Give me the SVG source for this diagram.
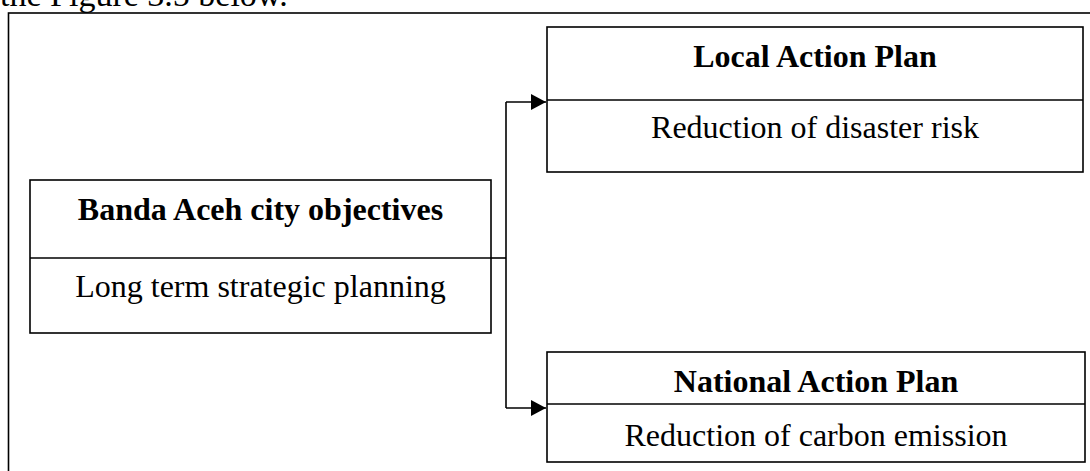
<svg xmlns="http://www.w3.org/2000/svg" width="1090" height="471" viewBox="0 0 1090 471">
  <style>
    .box { fill: #ffffff; stroke: #000000; stroke-width: 1.6; }
    .line { fill: none; stroke: #000000; stroke-width: 1.6; }
    .title { font-family: "Liberation Serif", "Times New Roman", serif; font-size: 32px; font-weight: bold; fill: #000000; text-anchor: middle; }
    .body { font-family: "Liberation Serif", "Times New Roman", serif; font-size: 32px; fill: #000000; text-anchor: middle; }
    .caption { font-family: "Liberation Serif", "Times New Roman", serif; font-size: 34px; fill: #000000; }
  </style>
  <defs>
    <marker id="arrow" markerUnits="userSpaceOnUse" markerWidth="16" markerHeight="16" refX="15" refY="8" orient="auto">
      <path d="M0,0 L15,8 L0,16 Z" fill="#000000"/>
    </marker>
  </defs>

  <rect width="1090" height="471" fill="#ffffff"/>

  <!-- running text above the figure frame -->
  <text class="caption" x="0" y="6">the Figure 3.5 below.</text>

  <!-- figure frame -->
  <rect class="line" x="8.5" y="13" width="1100" height="480"/>

  <!-- connectors -->
  <g id="connectors">
    <path class="line" d="M491,258 H506"/>
    <path class="line" d="M506,102 V408"/>
    <path class="line" d="M506,102 H546" marker-end="url(#arrow)"/>
    <path class="line" d="M506,408 H546" marker-end="url(#arrow)"/>
  </g>

  <g id="city-objectives">
    <rect class="box" x="30" y="180" width="461" height="153"/>
    <line class="line" x1="30" y1="258" x2="491" y2="258"/>
    <text class="title" x="260.5" y="220">Banda Aceh city objectives</text>
    <text class="body" x="260.5" y="297">Long term strategic planning</text>
  </g>

  <g id="local-action-plan">
    <rect class="box" x="547" y="27" width="536" height="145"/>
    <line class="line" x1="547" y1="100" x2="1083" y2="100"/>
    <text class="title" x="815" y="67">Local Action Plan</text>
    <text class="body" x="815" y="138">Reduction of disaster risk</text>
  </g>

  <g id="national-action-plan">
    <rect class="box" x="547" y="352" width="538" height="110"/>
    <line class="line" x1="547" y1="404" x2="1085" y2="404"/>
    <text class="title" x="816" y="392">National Action Plan</text>
    <text class="body" x="816" y="446">Reduction of carbon emission</text>
  </g>
</svg>
